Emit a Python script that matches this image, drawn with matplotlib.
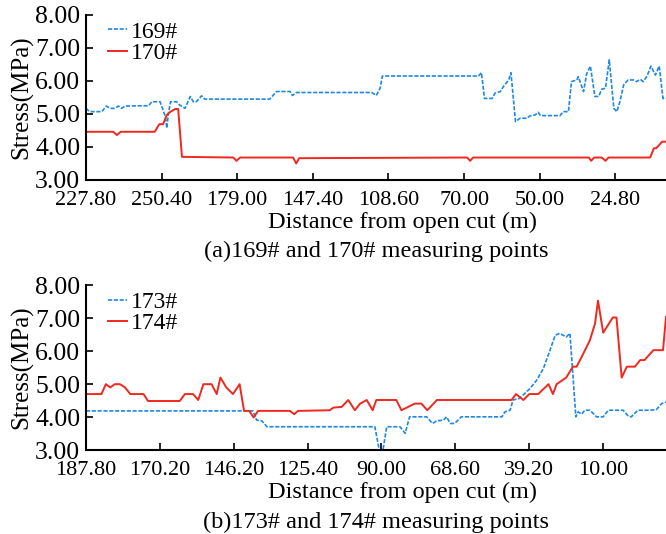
import matplotlib
matplotlib.use('Agg')
import matplotlib.pyplot as plt

plt.rcParams['font.family'] = ['Liberation Serif', 'DejaVu Serif']

# panel (a): x is position along the record (one tick step = 10 units)
ticks_a = ['227.80', '250.40', '179.00', '147.40', '108.60', '70.00', '50.00', '24.80']
x169 = [0, 0.5, 2.1, 2.7, 3.2, 3.8, 4.3, 4.7, 5.2, 8.3, 8.7, 9.8, 10.2, 10.5, 10.7, 10.9,
        11.2, 12.0, 12.4, 13.1, 13.8, 14.2, 14.6, 15.3, 15.7, 24.3, 25.2, 27.0, 27.3, 27.8,
        37.8, 38.4, 38.9, 39.2, 51.9, 52.3, 52.7, 53.7, 54.1, 54.8, 55.2, 55.9, 56.2, 56.8,
        57.4, 58.3, 58.7, 59.4, 59.8, 60.1, 62.7, 63.1, 63.8, 64.2, 64.9, 65.1, 65.8, 66.2,
        66.7, 67.3, 67.8, 68.2, 68.7, 69.2, 69.8, 70.2, 70.6, 71.1, 71.7, 72.4, 72.8, 73.3,
        73.7, 74.2, 74.7, 75.3, 75.8, 76.3, 76.7]
y169 = [5.17, 5.07, 5.07, 5.24, 5.17, 5.17, 5.24, 5.17, 5.24, 5.25, 5.37, 5.37, 5.12, 4.92,
        4.57, 5.02, 5.37, 5.37, 5.27, 5.17, 5.53, 5.37, 5.37, 5.55, 5.45, 5.45, 5.68, 5.68,
        5.56, 5.65, 5.65, 5.56, 5.78, 6.15, 6.15, 6.25, 5.47, 5.47, 5.63, 5.68, 5.83, 6.03,
        6.25, 4.77, 4.87, 4.87, 4.94, 4.97, 5.05, 4.95, 4.95, 5.07, 5.07, 5.98, 6.03, 6.13,
        5.68, 6.21, 6.45, 5.53, 5.53, 5.75, 5.78, 6.64, 5.17, 5.07, 5.37, 5.88, 6.03, 6.03,
        5.98, 6.05, 5.98, 6.15, 6.45, 6.18, 6.45, 5.47, 5.47]
x170 = [0, 3.6, 4.1, 4.6, 9.1, 9.7, 10.2, 10.7, 11.2, 11.8, 12.2, 12.7, 19.5, 19.9, 20.4,
        27.4, 27.8, 28.2, 50.4, 50.8, 51.2, 66.5, 66.8, 67.2, 68.2, 68.7, 69.1, 74.6, 75.1,
        75.4, 76.2, 76.7]
y170 = [4.46, 4.46, 4.36, 4.46, 4.46, 4.69, 4.69, 4.97, 5.07, 5.15, 5.15, 3.70, 3.68, 3.58,
        3.68, 3.68, 3.50, 3.66, 3.68, 3.58, 3.68, 3.68, 3.58, 3.68, 3.68, 3.58, 3.68, 3.68,
        3.96, 3.96, 4.16, 4.16]

# panel (b)
ticks_b = ['187.80', '170.20', '146.20', '125.40', '90.00', '68.60', '39.20', '10.00']
x173 = [0, 22.6, 23.1, 23.8, 24.5, 39.1, 39.7, 40.2, 40.7, 42.5, 43.2, 43.8, 46.1, 46.9,
        47.5, 48.4, 48.8, 49.3, 49.9, 50.8, 56.3, 56.7, 57.4, 57.8, 58.7, 60.1, 61.0, 61.9,
        62.8, 63.5, 64.1, 65.0, 65.5, 66.3, 66.6, 67.1, 67.5, 68.2, 69.1, 70.0, 70.7, 72.7,
        73.4, 73.8, 74.7, 76.3, 77.2, 77.9, 78.5]
y173 = [4.19, 4.19, 3.91, 3.89, 3.71, 3.71, 3.0, 3.0, 3.71, 3.71, 3.51, 4.01, 4.01, 3.81,
        3.89, 3.91, 4.01, 3.81, 3.81, 4.01, 4.01, 4.16, 4.21, 4.52, 4.57, 4.87, 5.12, 5.47,
        6.03, 6.48, 6.54, 6.43, 6.54, 4.01, 4.16, 4.09, 4.21, 4.21, 4.01, 4.01, 4.21, 4.21,
        4.03, 4.01, 4.21, 4.21, 4.23, 4.41, 4.46]
x174 = [0, 2.1, 2.7, 3.3, 3.9, 4.6, 5.3, 6.0, 7.8, 8.4, 12.7, 13.4, 14.5, 15.2, 15.9, 17.0,
        17.7, 18.2, 19.0, 19.9, 20.8, 21.4, 22.1, 22.7, 23.3, 27.6, 28.2, 28.7, 33.0, 33.5,
        34.6, 35.5, 36.4, 37.1, 38.0, 38.8, 39.3, 42.0, 42.7, 43.6, 44.5, 45.4, 46.2, 47.5,
        57.6, 58.2, 59.2, 60.0, 61.2, 62.6, 63.2, 63.7, 65.0, 65.9, 66.4, 67.1, 68.2, 68.9,
        69.3, 70.0, 71.3, 71.8, 72.5, 73.2, 74.3, 75.0, 75.6, 76.8, 78.1, 78.5]
y174 = [4.7, 4.7, 5.0, 4.9, 5.0, 5.0, 4.9, 4.7, 4.7, 4.49, 4.49, 4.7, 4.7, 4.52, 5.0, 5.0,
        4.7, 5.2, 4.9, 4.7, 5.0, 4.19, 4.19, 3.99, 4.19, 4.19, 4.09, 4.19, 4.21, 4.29, 4.31,
        4.52, 4.21, 4.41, 4.52, 4.21, 4.52, 4.52, 4.21, 4.31, 4.41, 4.41, 4.21, 4.52, 4.52,
        4.7, 4.52, 4.7, 4.7, 5.0, 4.7, 5.0, 5.2, 5.53, 5.53, 5.83, 6.33, 6.84, 7.53, 6.56,
        7.02, 7.02, 5.2, 5.53, 5.53, 5.73, 5.73, 6.03, 6.03, 7.04]

BLUE = '#1e88e5'
RED = '#f0281e'

fig = plt.figure(figsize=(6.66, 5.34), dpi=100)


def panel(rect, xa, ya, la, xb, yb, lb, ticks, xmax, caption):
    ax = fig.add_axes(rect)
    ax.plot(xa, ya, color=BLUE, lw=1.2, dashes=(2.5, 1), label=la)
    ax.plot(xb, yb, color=RED, lw=1.4, label=lb)
    ax.set_xlim(0, xmax)
    ax.set_ylim(3, 8)
    ax.set_yticks([3, 4, 5, 6, 7, 8])
    ax.set_yticklabels([f'{v:.2f}' for v in range(3, 9)])
    ax.set_xticks([10 * i for i in range(len(ticks))])
    ax.set_xticklabels(ticks)
    ax.tick_params(direction='in', length=5, width=1.2)
    ax.tick_params(axis='x', labelsize=16, pad=8)
    ax.tick_params(axis='y', labelsize=18.5, pad=4)
    for s in ['top', 'right']:
        ax.spines[s].set_visible(False)
    for s in ['left', 'bottom']:
        ax.spines[s].set_linewidth(1.5)
    ax.set_ylabel('Stress(MPa)', fontsize=18, labelpad=1)
    ax.set_xlabel('Distance from open cut (m)', fontsize=17.5, va='center')
    ax.xaxis.set_label_coords(0.545, -0.258)
    ax.text(0.5, -0.435, caption, transform=ax.transAxes, ha='center', va='center',
            fontsize=17.5)
    ax.legend(loc='upper left', frameon=False, fontsize=17, handlelength=0.8,
              handletextpad=0.15, labelspacing=0.0, borderaxespad=0.0,
              bbox_to_anchor=(0.022, 1.02))
    return ax


panel([0.129, 0.663, 0.871, 0.309], x169, y169, '169#', x170, y170, '170#',
      ticks_a, 76.7, '(a)169# and 170# measuring points')
panel([0.129, 0.157, 0.871, 0.309], x173, y173, '173#', x174, y174, '174#',
      ticks_b, 78.5, '(b)173# and 174# measuring points')

fig.savefig('out.png', dpi=100)
